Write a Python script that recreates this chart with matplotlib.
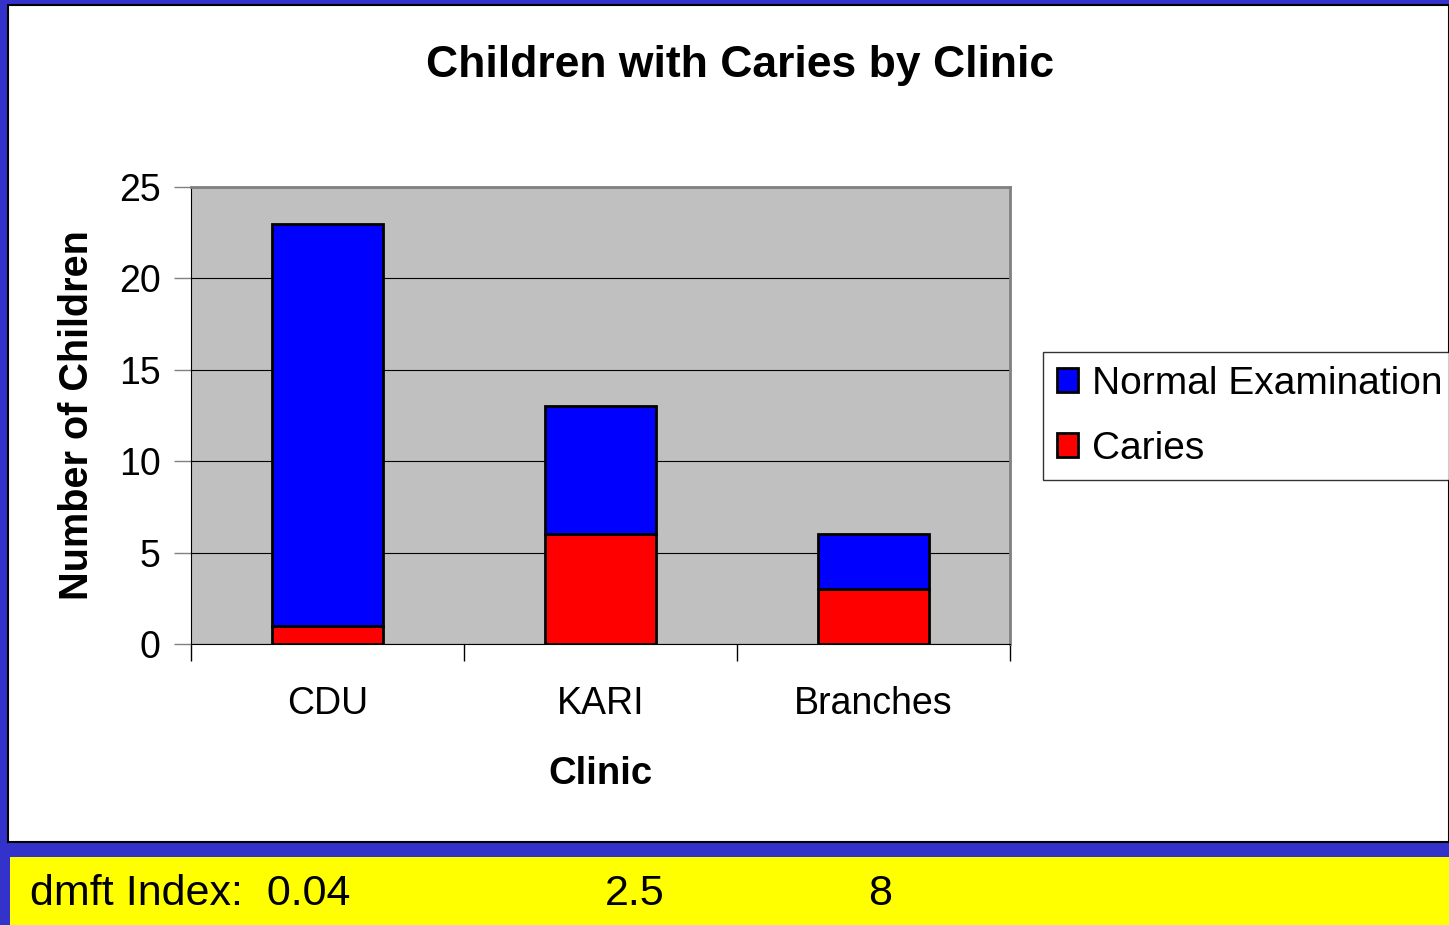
import matplotlib.pyplot as plt
from matplotlib.patches import Rectangle
import numpy as np

plt.rcParams['font.family'] = ['Liberation Sans', 'DejaVu Sans']

clinics = ['CDU', 'KARI', 'Branches']
caries = [1, 6, 3]
normal = [22, 7, 3]
dmft_label = 'dmft Index:'
dmft_values = ['0.04', '2.5', '8']

W, H = 1449, 925
fig = plt.figure(figsize=(W / 100, H / 100), dpi=100)
fig.patch.set_facecolor('#3333cc')

# white panel and yellow strip
fig.patches.append(Rectangle((8 / W, 1 - 842 / H), 1 - 8 / W, (842 - 5) / H,
                             transform=fig.transFigure, facecolor='white',
                             edgecolor='black', linewidth=1.5, zorder=-10))
fig.patches.append(Rectangle((10 / W, 0), 1 - 10 / W, (925 - 857) / H,
                             transform=fig.transFigure, facecolor='#ffff00',
                             edgecolor='none', zorder=-10))

ax = fig.add_axes([191 / W, 1 - 644 / H, (1010 - 191) / W, (644 - 187) / H])
ax.set_facecolor('#c0c0c0')

x = np.arange(len(clinics))
w = 0.41
b1 = ax.bar(x, caries, w, color='#ff0000', edgecolor='black', linewidth=2,
            label='Caries', zorder=3)
b2 = ax.bar(x, normal, w, bottom=caries, color='#0000ff', edgecolor='black',
            linewidth=2, label='Normal Examination', zorder=3)

ax.set_xlim(-0.5, len(clinics) - 0.5)
ax.set_ylim(0, 25)
ax.set_yticks(range(0, 26, 5))
ax.set_xticks(x)
ax.set_xticklabels(clinics, fontsize=27)
ax.tick_params(axis='x', length=0, pad=30)
ax.set_xticks(np.arange(-0.5, len(clinics), 1), minor=True)
ax.tick_params(axis='x', which='minor', length=12, width=1, color='black')
ax.tick_params(axis='y', labelsize=27, length=12, width=1, color='#808080', pad=10)
ax.yaxis.grid(True, color='black', linewidth=0.8, zorder=1)
ax.set_axisbelow(True)

for side in ['top', 'right']:
    ax.spines[side].set_color('#808080')
    ax.spines[side].set_linewidth(2)
ax.spines['left'].set_color('black')
ax.spines['bottom'].set_color('black')

ax.set_ylabel('Number of Children', fontsize=28.5, fontweight='bold', labelpad=16)
ax.set_xlabel('Clinic', fontsize=27.5, fontweight='bold', labelpad=25)

fig.text(740 / W, 1 - 66 / H, 'Children with Caries by Clinic', fontsize=32,
         fontweight='bold', ha='center', va='center')

leg = fig.legend([b2, b1], ['Normal Examination', 'Caries'],
                 loc='upper left', bbox_to_anchor=(1043 / W, 1 - 352 / H),
                 fontsize=28, frameon=True, fancybox=False, handlelength=0.55,
                 handleheight=0.55, handletextpad=0.35, borderpad=0.35,
                 labelspacing=0.75, borderaxespad=0)
leg.get_frame().set_edgecolor('black')
leg.get_frame().set_linewidth(1)

fig.text(30 / W, 1 - 894 / H, dmft_label + '  ' + dmft_values[0], fontsize=31,
         ha='left', va='center')
fig.text(635 / W, 1 - 894 / H, dmft_values[1], fontsize=31, ha='center', va='center')
fig.text(880 / W, 1 - 894 / H, dmft_values[2], fontsize=31, ha='center', va='center')

fig.savefig('out.png', dpi=100, facecolor=fig.get_facecolor())
